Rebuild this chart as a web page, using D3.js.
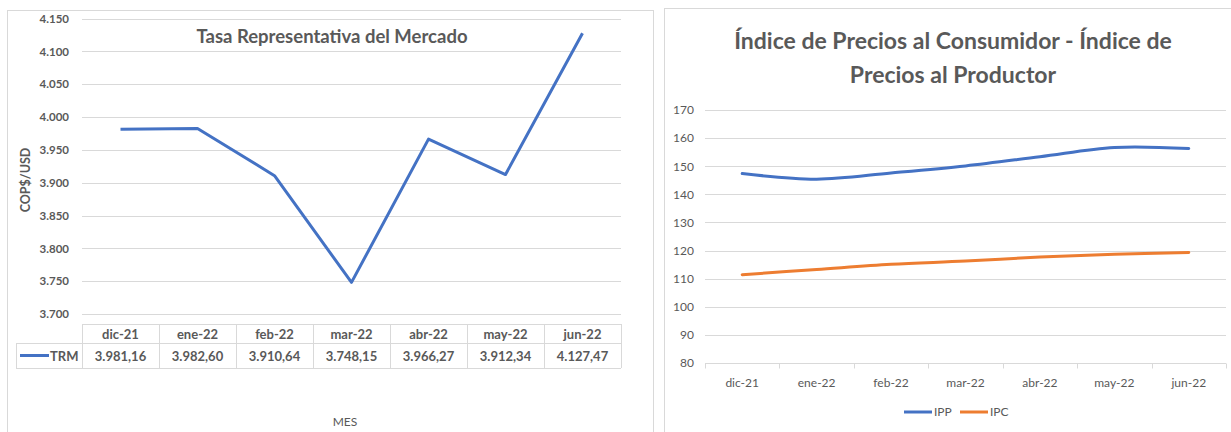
<!DOCTYPE html>
<html>
<head>
	<meta charset="utf-8">
	<title>TRM - IPC - IPP</title>
	<style type="text/css">
		body { margin: 0; background: #fff; }
		svg { display: block; font-family: Lato, "Open Sans", sans-serif; }
		.grid line { stroke: #d9d9d9; stroke-width: 1; }
		.frame { fill: none; stroke: #d9d9d9; stroke-width: 1; }
		.lbl { fill: #595959; }
	</style>
</head>
<body>
	<div id="chart"></div>
	<script src="https://d3js.org/d3.v7.min.js"></script>
	<script type="text/javascript">
		// data
		var months = ["dic-21", "ene-22", "feb-22", "mar-22", "abr-22", "may-22", "jun-22"];
		var trm = [3981.16, 3982.60, 3910.64, 3748.15, 3966.27, 3912.34, 4127.47];
		var trmTicks = [3700, 3750, 3800, 3850, 3900, 3950, 4000, 4050, 4100, 4150];
		var ipp = [147.4, 145.4, 147.6, 150.1, 153.4, 156.7, 156.3];
		var ipc = [111.41, 113.26, 115.11, 116.26, 117.71, 118.70, 119.31];
		var indexTicks = [80, 90, 100, 110, 120, 130, 140, 150, 160, 170];

		var blue = "#4472c4",
			orange = "#ed7d31";

		var es = d3.formatLocale({decimal: ",", thousands: ".", grouping: [3], currency: ["$", ""]});
		var fmtTick = es.format(",.0f"),
			fmtVal = es.format(",.2f");

		var svg = d3.select("#chart")
					.append("svg")
					.attr("width", 1231)
					.attr("height", 432);

		// ---------- left chart: TRM ----------
		var g1 = svg.append("g");
		g1.append("rect").attr("class", "frame")
			.attr("x", 7.5).attr("y", 10.5).attr("width", 646).attr("height", 440);

		var x1 = d3.scaleBand().domain(months).range([82, 621]),
			y1 = d3.scaleLinear().domain([3700, 4150]).range([314, 18.5]);

		g1.append("g").attr("class", "grid")
			.selectAll("line").data(trmTicks).enter().append("line")
			.attr("x1", x1.range()[0]).attr("x2", x1.range()[1])
			.attr("y1", function(d) { return Math.round(y1(d)) + 0.5; })
			.attr("y2", function(d) { return Math.round(y1(d)) + 0.5; });

		var ax1 = g1.append("g")
			.attr("transform", "translate(" + x1.range()[0] + ",0)")
			.call(d3.axisLeft(y1).tickValues(trmTicks).tickFormat(fmtTick).tickSize(0).tickPadding(13));
		ax1.select(".domain").remove();
		ax1.selectAll("text").attr("class", "lbl").attr("fill", null)
			.style("font-size", "11.5px").style("font-weight", "bold").style("font-family", "Lato");

		g1.append("text").attr("class", "lbl")
			.attr("x", 332).attr("y", 43)
			.attr("text-anchor", "middle")
			.style("font-size", "18.5px").style("font-weight", "bold")
			.text("Tasa Representativa del Mercado");

		g1.append("text").attr("class", "lbl")
			.attr("transform", "translate(30,180) rotate(-90)")
			.attr("text-anchor", "middle")
			.style("font-size", "12.5px").style("font-weight", "bold")
			.text("COP$/USD");

		var line1 = d3.line()
			.x(function(d, i) { return x1(months[i]) + x1.bandwidth() / 2; })
			.y(function(d) { return y1(d); });

		g1.append("path").datum(trm)
			.attr("d", line1)
			.attr("fill", "none")
			.attr("stroke", blue)
			.attr("stroke-width", 3)
			.attr("stroke-linejoin", "round");

		// data table under the plot
		var rowTop = 324, rowMid = 343, rowBot = 368, legLeft = 16;
		var tbl = g1.append("g").attr("class", "grid");
		tbl.append("line").attr("x1", x1.range()[0]).attr("x2", x1.range()[1]).attr("y1", rowTop + 0.5).attr("y2", rowTop + 0.5);
		tbl.append("line").attr("x1", legLeft).attr("x2", x1.range()[1]).attr("y1", rowMid + 0.5).attr("y2", rowMid + 0.5);
		tbl.append("line").attr("x1", legLeft).attr("x2", x1.range()[1]).attr("y1", rowBot + 0.5).attr("y2", rowBot + 0.5);
		tbl.append("line").attr("x1", legLeft + 0.5).attr("x2", legLeft + 0.5).attr("y1", rowMid).attr("y2", rowBot);
		tbl.selectAll("line.col").data(months.concat(["end"])).enter().append("line")
			.attr("class", "col")
			.attr("x1", function(d, i) { return Math.round(x1.range()[0] + i * x1.bandwidth()) + 0.5; })
			.attr("x2", function(d, i) { return Math.round(x1.range()[0] + i * x1.bandwidth()) + 0.5; })
			.attr("y1", rowTop).attr("y2", rowBot);

		g1.selectAll("text.cat").data(months).enter().append("text")
			.attr("class", "lbl cat")
			.attr("x", function(d) { return x1(d) + x1.bandwidth() / 2; })
			.attr("y", (rowTop + rowMid) / 2 + 5)
			.attr("text-anchor", "middle")
			.style("font-size", "13px").style("font-weight", "bold")
			.text(function(d) { return d; });

		g1.selectAll("text.val").data(trm).enter().append("text")
			.attr("class", "lbl val")
			.attr("x", function(d, i) { return x1(months[i]) + x1.bandwidth() / 2; })
			.attr("y", (rowMid + rowBot) / 2 + 5)
			.attr("text-anchor", "middle")
			.style("font-size", "13px").style("font-weight", "bold")
			.text(function(d) { return fmtVal(d); });

		g1.append("line")
			.attr("x1", 20).attr("x2", 49)
			.attr("y1", (rowMid + rowBot) / 2).attr("y2", (rowMid + rowBot) / 2)
			.attr("stroke", blue).attr("stroke-width", 3);
		g1.append("text").attr("class", "lbl")
			.attr("x", 50).attr("y", (rowMid + rowBot) / 2 + 5)
			.style("font-size", "13px").style("font-weight", "bold")
			.text("TRM");

		g1.append("text").attr("class", "lbl")
			.attr("x", 345).attr("y", 426)
			.attr("text-anchor", "middle")
			.style("font-size", "12px")
			.text("MES");

		// ---------- right chart: IPC / IPP ----------
		var g2 = svg.append("g");
		g2.append("rect").attr("class", "frame")
			.attr("x", 664.5).attr("y", 8.5).attr("width", 600).attr("height", 440);

		var x2 = d3.scaleBand().domain(months).range([705, 1226]),
			y2 = d3.scaleLinear().domain([80, 170]).range([363, 110]);

		g2.append("g").attr("class", "grid")
			.selectAll("line").data(indexTicks.slice(1)).enter().append("line")
			.attr("x1", x2.range()[0]).attr("x2", x2.range()[1])
			.attr("y1", function(d) { return Math.round(y2(d)) + 0.5; })
			.attr("y2", function(d) { return Math.round(y2(d)) + 0.5; });

		var ay2 = g2.append("g")
			.attr("transform", "translate(" + x2.range()[0] + ",0)")
			.call(d3.axisLeft(y2).tickValues(indexTicks).tickSize(0).tickPadding(11));
		ay2.select(".domain").remove();
		ay2.selectAll("text").attr("class", "lbl").attr("fill", null)
			.style("font-size", "12px").style("font-family", "Lato");

		// x axis with ticks between categories
		var ax2 = g2.append("g").attr("transform", "translate(0," + (Math.round(y2(80)) + 0.5) + ")");
		ax2.append("line").attr("x1", x2.range()[0]).attr("x2", x2.range()[1])
			.attr("stroke", "#d9d9d9");
		ax2.selectAll("line.tk").data(months.concat(["end"])).enter().append("line")
			.attr("class", "tk")
			.attr("x1", function(d, i) { return Math.round(x2.range()[0] + i * x2.bandwidth()) + 0.5; })
			.attr("x2", function(d, i) { return Math.round(x2.range()[0] + i * x2.bandwidth()) + 0.5; })
			.attr("y1", 0).attr("y2", 5)
			.attr("stroke", "#d9d9d9");
		ax2.selectAll("text").data(months).enter().append("text")
			.attr("class", "lbl")
			.attr("x", function(d) { return x2(d) + x2.bandwidth() / 2; })
			.attr("y", 23)
			.attr("text-anchor", "middle")
			.style("font-size", "12px")
			.text(function(d) { return d; });

		var title2 = g2.append("text").attr("class", "lbl")
			.attr("text-anchor", "middle")
			.style("font-size", "23px").style("font-weight", "bold");
		title2.append("tspan").attr("x", 953).attr("y", 49).text("Índice de Precios al Consumidor - Índice de");
		title2.append("tspan").attr("x", 953).attr("y", 83).text("Precios al Productor");

		var line2 = d3.line()
			.curve(d3.curveCatmullRom)
			.x(function(d, i) { return x2(months[i]) + x2.bandwidth() / 2; })
			.y(function(d) { return y2(d); });

		[[ipp, blue], [ipc, orange]].forEach(function(s) {
			g2.append("path").datum(s[0])
				.attr("d", line2)
				.attr("fill", "none")
				.attr("stroke", s[1])
				.attr("stroke-width", 3)
				.attr("stroke-linecap", "round");
		});

		// legend
		var leg = g2.append("g").attr("transform", "translate(904,412)");
		[["IPP", blue, 0], ["IPC", orange, 56]].forEach(function(s) {
			leg.append("line").attr("x1", s[2]).attr("x2", s[2] + 28)
				.attr("y1", 0).attr("y2", 0)
				.attr("stroke", s[1]).attr("stroke-width", 3);
			leg.append("text").attr("class", "lbl")
				.attr("x", s[2] + 30).attr("y", 4)
				.style("font-size", "12px")
				.text(s[0]);
		});
	</script>
</body>
</html>
